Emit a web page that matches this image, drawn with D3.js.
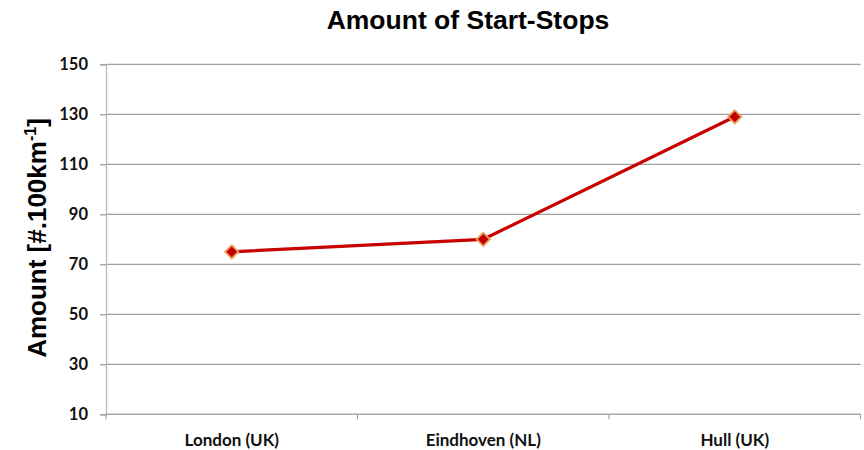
<!DOCTYPE html>
<html>
<head>
<meta charset="utf-8">
<script src="https://cdn.jsdelivr.net/npm/d3@7"></script>
<style>
  html, body { margin: 0; padding: 0; background: #fff; }
  svg { display: block; }
</style>
</head>
<body>
<svg id="chart" width="864" height="450"></svg>
<script>
// Start-stop counts per 100 km for three cities
const categories = ["London (UK)", "Eindhoven (NL)", "Hull (UK)"];
const values = [75, 80, 129];
const yTicks = [10, 30, 50, 70, 90, 110, 130, 150];

const svg = d3.select("#chart");
const W = 864, H = 450;
const margin = { left: 106, right: W - 860.5, top: 64.3, bottom: H - 414.3 };

const x = d3.scaleBand()
  .domain(categories)
  .range([margin.left, W - margin.right])
  .paddingInner(0).paddingOuter(0);

const y = d3.scaleLinear()
  .domain([10, 150])
  .range([H - margin.bottom, margin.top]);

const tickFont = "Lato, 'Noto Sans', sans-serif";

// horizontal gridlines
svg.append("g")
  .selectAll("line")
  .data(yTicks)
  .join("line")
  .attr("x1", margin.left)
  .attr("x2", W - margin.right)
  .attr("y1", d => y(d))
  .attr("y2", d => y(d))
  .attr("stroke", "#a0a0a0")
  .attr("stroke-width", 1.3);

// y axis
const yAxis = svg.append("g")
  .attr("transform", `translate(${margin.left},0)`)
  .call(d3.axisLeft(y).tickValues(yTicks).tickSize(6).tickPadding(12));
yAxis.select(".domain").attr("stroke", "#b8b8b8").attr("stroke-width", 1.3);
yAxis.selectAll(".tick line").attr("stroke", "#a0a0a0").attr("stroke-width", 1.3);
yAxis.selectAll(".tick text")
  .attr("font-family", tickFont)
  .attr("font-weight", "bold")
  .attr("font-size", 16.5)
  .attr("fill", "#111");

// x axis with tick marks at category boundaries
const xAxisG = svg.append("g")
  .attr("transform", `translate(0,${y(10)})`);
xAxisG.append("line")
  .attr("x1", margin.left).attr("x2", W - margin.right)
  .attr("y1", 0).attr("y2", 0)
  .attr("stroke", "#a8a8a8").attr("stroke-width", 1.3);
const boundaries = categories.map(c => x(c) + x.bandwidth()).concat([x(categories[0])]);
xAxisG.selectAll("line.tk")
  .data(boundaries)
  .join("line")
  .attr("class", "tk")
  .attr("x1", d => d).attr("x2", d => d)
  .attr("y1", 0).attr("y2", 5)
  .attr("stroke", "#a0a0a0").attr("stroke-width", 1.2);
xAxisG.selectAll("text")
  .data(categories)
  .join("text")
  .attr("x", d => x(d) + x.bandwidth() / 2)
  .attr("y", 32)
  .attr("text-anchor", "middle")
  .attr("font-family", tickFont)
  .attr("font-weight", "bold")
  .attr("font-size", 17)
  .attr("fill", "#111")
  .text(d => d);

// series line
const line = d3.line()
  .x((d, i) => x(categories[i]) + x.bandwidth() / 2)
  .y(d => y(d));
svg.append("path")
  .datum(values)
  .attr("d", line)
  .attr("fill", "none")
  .attr("stroke", "#c80000")
  .attr("stroke-width", 3.2)
  .attr("stroke-linejoin", "round");

// diamond markers
const diamond = d3.symbol().type(d3.symbolSquare).size(88);
svg.append("g")
  .selectAll("path")
  .data(values)
  .join("path")
  .attr("d", diamond)
  .attr("transform", (d, i) =>
    `translate(${x(categories[i]) + x.bandwidth() / 2},${y(d)}) rotate(45)`)
  .attr("fill", "#c00000")
  .attr("stroke", "#eb9d57")
  .attr("stroke-width", 1.8);

// title
svg.append("text")
  .attr("x", 468)
  .attr("y", 29)
  .attr("text-anchor", "middle")
  .attr("font-family", "'Liberation Sans', Arial, sans-serif")
  .attr("font-weight", "bold")
  .attr("font-size", 26.5)
  .attr("fill", "#000")
  .text("Amount of Start-Stops");

// y axis title with superscript
const yTitle = svg.append("text")
  .attr("transform", "translate(46,238) rotate(-90)")
  .attr("text-anchor", "middle")
  .attr("font-family", "'Liberation Sans', Arial, sans-serif")
  .attr("font-weight", "bold")
  .attr("font-size", 26)
  .attr("fill", "#000");
yTitle.append("tspan").text("Amount [#.100km");
yTitle.append("tspan").attr("dy", -10).attr("font-size", 16).text("-1");
yTitle.append("tspan").attr("dy", 10).text("]");
</script>
</body>
</html>
